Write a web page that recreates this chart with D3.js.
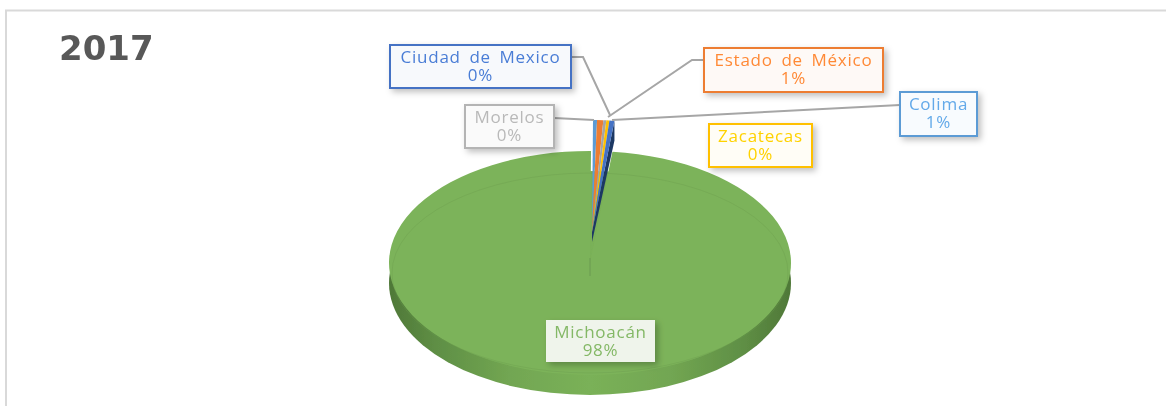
<!DOCTYPE html>
<html><head><meta charset="utf-8">
<script src="https://cdn.jsdelivr.net/npm/d3@7"></script>
<style>html,body{margin:0;padding:0;background:#fff}svg{display:block}</style>
</head><body><div id="c"></div>
<script>
const title = "2017";
const categories = ["Colima","Estado de México","Morelos","Zacatecas","Ciudad de Mexico","Michoacán"];
const sliceValues = [0.32,0.5,0.24,0.24,0.4,98.3];
const percentLabels = ["1%","1%","0%","0%","0%","98%"];
const colors = ["#5B9BD5","#ED7D31","#A5A5A5","#FFC000","#4472C4","#7CB35A"];

const W=1166,H=406;
const cx=590,cy=263,rx=201,ry=112,depth=20;
const svg=d3.select("#c").append("svg").attr("width",W).attr("height",H);
const defs=svg.append("defs");
const sb=defs.append("filter").attr("id","soft").attr("x","-5%").attr("y","-5%").attr("width","110%").attr("height","110%");
sb.append("feGaussianBlur").attr("stdDeviation",0.45);
const sh=defs.append("filter").attr("id","shadow").attr("x","-20%").attr("y","-20%").attr("width","145%").attr("height","145%");
sh.append("feDropShadow").attr("dx",3).attr("dy",3).attr("stdDeviation",3).attr("flood-color","#000").attr("flood-opacity",0.25);
const g=defs.append("linearGradient").attr("id","side").attr("x1",0).attr("x2",1).attr("y1",0).attr("y2",0);
[[0,"#4f7838"],[0.12,"#5f8f45"],[0.3,"#72a652"],[0.5,"#7ab158"],[0.7,"#72a652"],[0.88,"#5f8f45"],[1,"#4f7838"]]
  .forEach(([o,c])=>g.append("stop").attr("offset",o).attr("stop-color",c));

const root=svg.append("g").attr("filter","url(#soft)");
root.append("path").attr("d",`M6,${H}V10.5H1166`).attr("fill","none").attr("stroke","#d9d9d9").attr("stroke-width",2);
root.append("text").attr("x",59).attr("y",60).text(title)
  .attr("font-family","'DejaVu Sans',sans-serif").attr("font-weight",700).attr("font-size",34)
  .attr("fill","#595959");

const pie=d3.pie().sort(null).value(d=>d).startAngle(0.005).endAngle(0.005+2*Math.PI);
const arcs=pie(sliceValues);
const main=arcs[5], small=arcs.slice(0,5);
const k=ry/rx;
const arcG=d3.arc().innerRadius(0).outerRadius(rx);
const ell=`scale(1,${k})`;
const apex=[592,232];

// main disc side, then top face
root.append("g").attr("transform",`translate(${cx},${cy+depth}) ${ell}`)
  .append("path").attr("d",arcG({startAngle:0,endAngle:2*Math.PI})).attr("fill","url(#side)");
root.append("g").attr("transform",`translate(${cx},${cy}) ${ell}`)
  .append("path").attr("d",arcG(main)).attr("fill",colors[5]);
// faint bevel ellipse on the top face
root.append("ellipse").attr("cx",cx).attr("cy",cy+10).attr("rx",rx-3).attr("ry",ry-12)
  .attr("fill","none").attr("stroke","#6b9c4e").attr("stroke-opacity",0.35);
root.append("line").attr("x1",cx).attr("x2",cx).attr("y1",cy-5).attr("y2",cy+13).attr("stroke","#6a9a4e").attr("stroke-width",1);

// extruded side of the pulled-out slices, in front of the disc
const a=small[4].endAngle;
const tip=[apex[0]+rx*Math.sin(a),apex[1]-ry*Math.cos(a)];
root.append("path")
  .attr("d",d3.line()([apex,tip,[tip[0],tip[1]+depth],[apex[0],apex[1]+depth/2]])+"Z")
  .attr("fill","#1f3864");

// pulled-out slices
root.append("g").attr("transform",`translate(${apex[0]},${apex[1]}) ${ell}`)
  .selectAll("path").data(small).join("path")
  .attr("d",arcG).attr("fill",(d,i)=>colors[i]);

// label layout
const boxes={
 "Ciudad de Mexico":{x:390,y:45,w:181,h:43,lead:[[571,57],[583,57],[610,115]]},
 "Morelos":{x:465,y:105,w:89,h:43,lead:[[554,118],[594,120]]},
 "Estado de México":{x:704,y:48,w:179,h:44,lead:[[704,60],[692,60],[608,117]]},
 "Colima":{x:900,y:92,w:77,h:44,lead:[[900,105],[612,120]]},
 "Zacatecas":{x:709,y:124,w:103,h:43,lead:null},
 "Michoacán":{x:546,y:320,w:109,h:42,lead:null}
};
const fills={"Ciudad de Mexico":"#f7f9fc","Morelos":"#fafafa","Estado de México":"#fef9f6","Colima":"#f8fbfe","Zacatecas":"#fffdf6","Michoacán":"#eff4eb"};

const line=d3.line();
categories.forEach(c=>{const b=boxes[c]; if(b.lead) root.append("path").attr("d",line(b.lead)).attr("fill","none").attr("stroke","#a6a6a6").attr("stroke-width",2);});
categories.forEach((c,i)=>{
  const b=boxes[c];
  const lg=root.append("g");
  lg.append("rect").attr("x",b.x).attr("y",b.y).attr("width",b.w).attr("height",b.h)
    .attr("fill",fills[c]).attr("filter","url(#shadow)")
    .attr("stroke",c==="Michoacán"?"none":(c==="Morelos"?"#b4b4b4":colors[i])).attr("stroke-width",2);
  const t=lg.append("text").attr("text-anchor","middle")
    .attr("font-family","'Open Sans',sans-serif").attr("font-size",17).attr("letter-spacing",0.75).attr("word-spacing",3.5)
    .attr("fill",c==="Morelos"?"#b9b9b9":(c==="Michoacán"?"#84b866":d3.color(colors[i]).brighter(0.25)));
  t.append("tspan").attr("x",b.x+b.w/2).attr("y",b.y+18).text(c);
  t.append("tspan").attr("x",b.x+b.w/2).attr("y",b.y+36).text(percentLabels[i]);
});
</script></body></html>
